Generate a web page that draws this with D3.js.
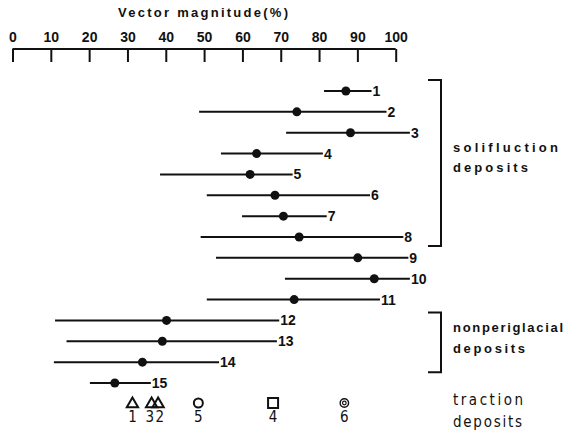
<!DOCTYPE html>
<meta charset="UTF-8">
<head>
<script src="https://cdnjs.cloudflare.com/ajax/libs/d3/7.8.5/d3.min.js"></script>
</head>
<style>
body { margin: 0; background: #fff; }
svg text { fill: #111; }
.num { font: bold 14px "Liberation Sans", Arial, sans-serif; }
.lab { font: bold 13px "Liberation Sans", Arial, sans-serif; }
.thin { font: 15px "DejaVu Sans Condensed", "Liberation Sans Narrow", sans-serif; }
</style>
<body>
<div id="chart"></div>
<script>

// sample numbers and their vector magnitude ranges (%)
var sampleIds = [1, 2, 3, 4, 5, 6, 7, 8, 9, 10, 11, 12, 13, 14, 15];
var lowVals  = [81.3, 48.7, 71.4, 54.4, 38.5, 50.7, 59.9, 49.1, 53.1, 71.1, 50.7, 11.1, 14.1, 10.8, 20.2];
var meanVals = [87.0, 74.2, 88.2, 63.7, 62.0, 68.5, 70.7, 74.8, 90.1, 94.4, 73.5, 40.2, 39.1, 33.9, 26.7];
var highVals = [93.7, 97.6, 103.7, 81.0, 73.1, 93.3, 82.0, 102.0, 103.3, 103.7, 95.9, 69.6, 69.0, 53.9, 36.1];

// traction deposits shown along the bottom
var tractionIds = ["1", "3", "2", "5", "4", "6"];
var tractionVals = [31.3, 36.3, 38.0, 48.5, 68.0, 86.6];
var tractionShapes = ["triangle", "triangle", "triangle", "circle", "square", "double"];

var axisTicks = [0, 10, 20, 30, 40, 50, 60, 70, 80, 90, 100];

var width = 565, height = 433;

var svg = d3.select("#chart").append("svg")
    .attr("width", width)
    .attr("height", height);

var x = d3.scaleLinear().domain([0, 100]).range([12.5, 395.7]);
var y = d3.scaleLinear().domain([1, 15]).range([91, 383]);

// top axis, ticks hang down, labels above the line
var axis = svg.append("g")
    .attr("transform", "translate(0,49)")
    .call(d3.axisBottom(x).tickValues(axisTicks).tickSize(13).tickSizeOuter(0));
axis.select(".domain").attr("stroke", "#111").attr("stroke-width", 2)
    .attr("d", "M" + x(0) + ",0H" + x(100));
axis.selectAll(".tick line").attr("stroke", "#111").attr("stroke-width", 2);
axis.selectAll(".tick text")
    .attr("class", "num")
    .attr("y", -7).attr("dy", 0)
    .attr("fill", "#111");

svg.append("text")
    .attr("class", "lab")
    .attr("x", 118).attr("y", 17)
    .attr("textLength", 170).attr("lengthAdjust", "spacing")
    .text("Vector magnitude(%)");

// range lines
var rows = svg.append("g");
rows.selectAll("line.range")
  .data(sampleIds)
  .enter().append("line")
    .attr("x1", function(d, i) { return x(lowVals[i]); })
    .attr("x2", function(d, i) { return x(highVals[i]); })
    .attr("y1", function(d) { return y(d); })
    .attr("y2", function(d) { return y(d); })
    .attr("stroke", "#111")
    .attr("stroke-width", 2);

rows.selectAll("circle")
  .data(sampleIds)
  .enter().append("circle")
    .attr("cx", function(d, i) { return x(meanVals[i]); })
    .attr("cy", function(d) { return y(d); })
    .attr("r", 4.5)
    .attr("fill", "#111");

rows.selectAll("text")
  .data(sampleIds)
  .enter().append("text")
    .attr("class", "num")
    .attr("x", function(d, i) { return x(highVals[i]) + 1; })
    .attr("y", function(d) { return y(d) + 5; })
    .text(function(d) { return d; });

// brackets for the groups
function bracket(r0, r1, top, bot) {
  var y0 = y(r0) - top, y1 = y(r1) + bot;
  svg.append("path")
    .attr("d", "M428," + y0 + "H441V" + y1 + "H428")
    .attr("fill", "none")
    .attr("stroke", "#111")
    .attr("stroke-width", 2);
}
bracket(1, 8, 11, 9);
bracket(12, 14, 8, 10);

function label(txt, yy, len, cls) {
  svg.append("text")
    .attr("class", cls)
    .attr("x", 453).attr("y", yy)
    .attr("textLength", len).attr("lengthAdjust", "spacing")
    .text(txt);
}
label("solifluction", 152, 105, "lab");
label("deposits", 172, 75, "lab");
label("nonperiglacial", 332, 110, "lab");
label("deposits", 353, 72, "lab");
label("traction", 405, 70, "thin");
label("deposits", 427, 69, "thin");

// traction markers
var my = 403;
var marks = svg.append("g");

// label positions, pushed apart where markers sit too close
var labelX = tractionVals.map(function(v) { return x(v); });
for (var k = 1; k < labelX.length; k++) {
  var gap = labelX[k] - labelX[k - 1];
  if (gap < 10) {
    labelX[k - 1] -= (10 - gap) / 2;
    labelX[k] += (10 - gap) / 2;
  }
}

tractionVals.forEach(function(v, i) {
  var cx = x(v), s = tractionShapes[i];
  if (s === "triangle") {
    marks.append("path")
      .attr("d", d3.symbol().type(d3.symbolTriangle).size(55)())
      .attr("transform", "translate(" + cx + "," + (my + 1) + ")")
      .attr("fill", "none").attr("stroke", "#111").attr("stroke-width", 2);
  } else if (s === "circle") {
    marks.append("circle").attr("cx", cx).attr("cy", my).attr("r", 4.5)
      .attr("fill", "none").attr("stroke", "#111").attr("stroke-width", 2);
  } else if (s === "square") {
    marks.append("rect").attr("x", cx - 5).attr("y", my - 5)
      .attr("width", 10).attr("height", 10)
      .attr("fill", "none").attr("stroke", "#111").attr("stroke-width", 2);
  } else {
    marks.append("circle").attr("cx", cx).attr("cy", my).attr("r", 4.2)
      .attr("fill", "none").attr("stroke", "#111").attr("stroke-width", 1.4);
    marks.append("circle").attr("cx", cx).attr("cy", my).attr("r", 1.8)
      .attr("fill", "none").attr("stroke", "#111").attr("stroke-width", 1.2);
  }
  marks.append("text")
    .attr("class", "thin")
    .attr("x", labelX[i]).attr("y", my + 19)
    .attr("text-anchor", "middle")
    .text(tractionIds[i]);
});

</script>
</body>
